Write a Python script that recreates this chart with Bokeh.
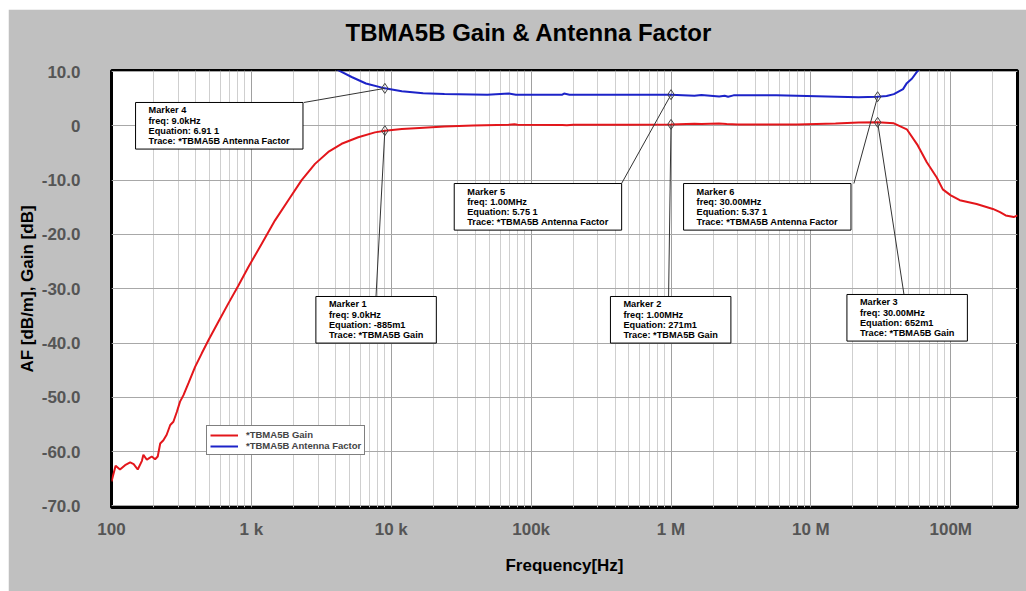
import numpy as np
from bokeh.plotting import figure
from bokeh.models import FixedTicker, Label, Legend, LegendItem, Range1d, Title
from bokeh.embed import file_html
from bokeh.resources import INLINE

# ---------------- data ----------------
gain_freq = [100, 107, 115, 125, 136, 144, 154, 165, 169, 179, 186, 194, 205, 214,
             223, 235, 248, 263, 277, 293, 309, 327, 355, 396, 442, 493, 581, 685,
             808, 952, 1186, 1476, 1837, 2288, 2850, 3548, 4418, 5810, 7642, 9000,
             11900, 15900, 24000, 38500, 69000, 76000, 80000, 167000, 180000, 200000,
             500000, 1.0e6, 1.47e6, 1.65e6, 2.2e6, 2.5e6, 3.0e6, 8.0e6, 15e6, 22e6,
             30e6, 39.2e6, 48.5e6, 58.1e6, 67.4e6, 79.4e6, 87.7e6, 100e6, 116e6,
             153e6, 200e6, 225e6, 247e6, 282e6, 300e6]
gain_db = [-65.5, -62.6, -63.3, -62.5, -62.0, -62.3, -63.3, -61.7, -60.6, -61.5, -61.2,
           -60.9, -61.4, -60.9, -58.5, -57.9, -56.9, -55.1, -54.5, -52.7, -50.8, -49.6,
           -47.4, -44.4, -41.9, -39.5, -36.1, -32.7, -29.4, -26.0, -21.7, -17.4, -13.7,
           -10.0, -7.0, -4.8, -3.3, -2.1, -1.2, -0.885, -0.58, -0.39, -0.12, 0.07, 0.2,
           0.28, 0.2, 0.15, 0.1, 0.2, 0.2, 0.271, 0.4, 0.33, 0.45, 0.33, 0.27, 0.27,
           0.45, 0.62, 0.652, 0.47, -0.63, -3.6, -6.7, -9.5, -11.7, -12.8, -13.7,
           -14.4, -15.3, -15.9, -16.5, -16.8, -16.5]

af_freq = [3500, 4375, 5212, 6592, 9000, 11900, 16900, 24000, 48600, 69200, 77800,
           167000, 172000, 188000, 917000, 1.0e6, 1.47e6, 1.65e6, 2.21e6, 2.42e6,
           2.56e6, 2.8e6, 5.66e6, 15.4e6, 21.9e6, 30e6, 34.8e6, 39.2e6, 45.6e6,
           48.5e6, 52.9e6, 56.9e6, 62e6]
af_db = [11.3, 10.0, 9.0, 7.8, 6.91, 6.38, 6.0, 5.88, 5.75, 5.95, 5.75, 5.75, 5.95,
         5.75, 5.72, 5.75, 5.55, 5.68, 5.42, 5.55, 5.36, 5.62, 5.62, 5.36, 5.26, 5.37,
         5.5, 5.85, 6.77, 7.87, 8.73, 9.84, 11.0]

marker_freq = [9e3, 1e6, 30e6]
marker_freq_text = ["9.0kHz", "1.00MHz", "30.00MHz"]
marker_gain = [-0.885, 0.271, 0.652]
marker_gain_eq = ["-885m1", "271m1", "652m1"]
marker_af = [6.91, 5.75, 5.37]
marker_af_eq = ["6.91 1", "5.75 1", "5.37 1"]

x_tick_values = [1e2, 1e3, 1e4, 1e5, 1e6, 1e7, 1e8]
x_tick_labels = ["100", "1 k", "10 k", "100k", "1 M", "10 M", "100M"]
y_tick_values = [10, 0, -10, -20, -30, -40, -50, -60, -70]
y_tick_labels = ["10.0", "0", "-10.0", "-20.0", "-30.0", "-40.0", "-50.0", "-60.0", "-70.0"]

# ---------------- layout constants (annotation box anchors) ----------------
gain_box_xy = [(2892, -31.43), (369e3, -31.43), (18.1e6, -31.06)]
gain_lead_xy = [(7780, -31.43), (961e3, -31.43), (46.3e6, -31.06)]
af_box_xy = [(148.6, 4.31), (28.2e3, -10.62), (1.23e6, -10.62)]
af_lead_xy = [(2372, 4.31), (443e3, -10.62), (20.3e6, -10.62)]

SANS = "'Liberation Sans', Arial, sans-serif"

p = figure(width=1018, height=582, x_axis_type="log",
           x_range=Range1d(100, 3e8), y_range=Range1d(-70.3, 10.2),
           output_backend="svg", toolbar_location=None,
           margin=(9, 0, 0, 8),
           min_border_left=103, min_border_right=9, min_border_top=61,
           min_border_bottom=84)
p.border_fill_color = "#c0c0c0"
p.background_fill_color = "white"
p.outline_line_color = "black"
p.outline_line_width = 3

p.title.text = "TBMA5B Gain & Antenna Factor"
p.title.align = "left"
p.title.offset = 234
p.title.standoff = 4
p.title.text_font = SANS
p.title.text_font_size = "24px"
p.title.text_font_style = "bold"
p.title.text_color = "black"

# invisible spacer between title and frame
p.add_layout(Title(text=" ", text_font_size="1px", standoff=20), "above")

minor = [k * 10 ** d for d in range(2, 9) for k in range(2, 10) if k * 10 ** d <= 3e8]
xt = FixedTicker(ticks=x_tick_values, minor_ticks=minor)
p.xaxis.ticker = xt
p.xgrid.ticker = xt
p.xaxis.major_label_overrides = {float(v): t for v, t in zip(x_tick_values, x_tick_labels)}
yt = FixedTicker(ticks=y_tick_values, minor_ticks=[])
p.yaxis.ticker = yt
p.ygrid.ticker = yt
p.yaxis.major_label_overrides = {float(v): t for v, t in zip(y_tick_values, y_tick_labels)}

for ax in (p.xaxis, p.yaxis):
    ax.axis_line_color = None
    ax.major_tick_line_color = None
    ax.minor_tick_line_color = None
    ax.major_label_text_color = "#555555"
    ax.major_label_text_font_style = "bold"
    ax.axis_label_text_color = "black"
    ax.axis_label_text_font_style = "bold"
    ax.major_label_text_font = SANS
    ax.axis_label_text_font = SANS

p.xaxis.major_label_text_font_size = "17px"
p.xaxis.major_label_standoff = 6
p.xaxis.axis_label = "Frequency[Hz]"
p.xaxis.axis_label_text_font_size = "17px"
p.xaxis.axis_label_standoff = 14

p.yaxis.major_label_text_font_size = "17px"
p.yaxis.major_label_standoff = 25
p.yaxis.axis_label = "AF [dB/m], Gain [dB]"
p.yaxis.axis_label_text_font_size = "17px"
p.yaxis.axis_label_standoff = 2

p.xgrid.grid_line_color = "#a0a0a0"
p.xgrid.minor_grid_line_color = "#cfcfcf"
p.ygrid.grid_line_color = "#a8a8a8"

r_gain = p.line(gain_freq, gain_db, line_color="#e3161b", line_width=2)
r_af = p.line(af_freq, af_db, line_color="#1c23c8", line_width=2)

# leader lines
p.segment(x0=[b[0] for b in gain_lead_xy], y0=[b[1] for b in gain_lead_xy],
          x1=marker_freq, y1=marker_gain, line_color="#333333", line_width=1)
p.segment(x0=[b[0] for b in af_lead_xy], y0=[b[1] for b in af_lead_xy],
          x1=marker_freq, y1=marker_af, line_color="#333333", line_width=1)

p.scatter(marker_freq, marker_gain, marker="diamond", size=10, fill_color=None,
          line_color="#444444", line_width=1)
p.scatter(marker_freq, marker_af, marker="diamond", size=10, fill_color=None,
          line_color="#444444", line_width=1)

def add_box(n, xy, ftxt, eq, trace):
    txt = f"Marker {n}\nfreq: {ftxt}\nEquation: {eq}\nTrace: *TBMA5B {trace}"
    p.add_layout(Label(x=xy[0], y=xy[1], text=txt, text_align="left",
                       text_baseline="top", text_font=SANS, text_font_size="9.2px",
                       text_font_style="bold", text_color="black",
                       text_line_height=1.02, padding=(13, 13, 3, 3),
                       background_fill_color="white", border_line_color="black",
                       border_line_width=1))

for i in range(3):
    add_box(i + 1, gain_box_xy[i], marker_freq_text[i], marker_gain_eq[i], "Gain")
    add_box(i + 4, af_box_xy[i], marker_freq_text[i], marker_af_eq[i], "Antenna Factor")

legend = Legend(items=[LegendItem(label="*TBMA5B Gain", renderers=[r_gain]),
                       LegendItem(label="*TBMA5B Antenna Factor", renderers=[r_af])],
                location=(95, 52), margin=0, padding=3, spacing=0,
                glyph_width=28, glyph_height=10, label_height=10, label_standoff=8,
                label_text_font=SANS, label_text_font_size="9.5px",
                label_text_font_style="bold", border_line_color="black",
                border_line_width=1, background_fill_color="white",
                background_fill_alpha=1)
p.add_layout(legend)

open("out.html", "w").write(file_html(p, INLINE))
